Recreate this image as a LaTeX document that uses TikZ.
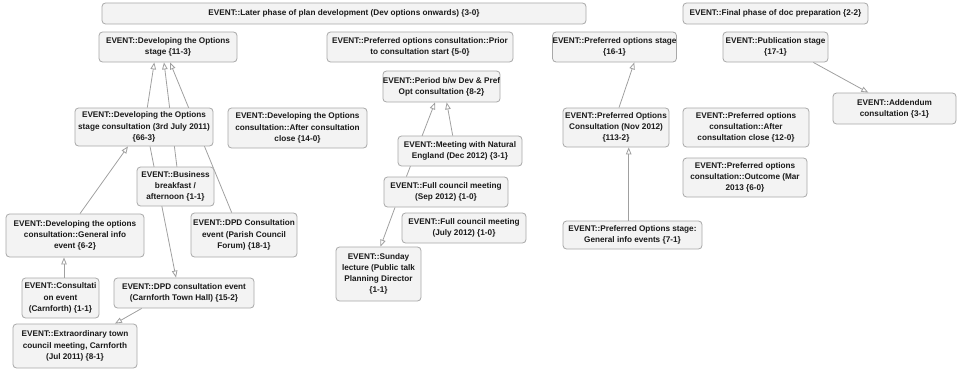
\documentclass[tikz,border=0pt]{standalone}
\usepackage{fontspec}
\setmainfont{Liberation Sans}
\usetikzlibrary{arrows.meta,backgrounds}
\definecolor{boxfill}{HTML}{F3F3F3}
\definecolor{boxline}{HTML}{A8A8A8}
\definecolor{edgecol}{HTML}{A0A0A0}
\definecolor{txt}{HTML}{1A1A1A}
\tikzset{
  ev/.style={draw=boxline, fill=boxfill, line width=0.8pt, rounded corners=3.5pt,
    inner sep=0pt, align=center, text=txt,
    font=\fontsize{8.2}{11.2}\selectfont\bfseries},
  conn/.style={draw=edgecol, line width=0.8pt,
    -{Triangle[open, length=7pt, width=5.5pt]}}
}
\begin{document}
\begin{tikzpicture}[x=1pt,y=-1pt]
\path[use as bounding box] (0,0) rectangle (957,369);
% nodes
\node[ev, minimum width=484, minimum height=21] (n1) at (344,13.5) {EVENT::Later phase of plan development (Dev options onwards) \{3-0\}};
\node[ev, minimum width=138, minimum height=30] (n2) at (168,47) {EVENT::Developing the Options\\stage \{11-3\}};
\node[ev, minimum width=138, minimum height=38] (n3) at (144,127) {EVENT::Developing the Options\\stage consultation (3rd July 2011)\\\{66-3\}};
\node[ev, minimum width=139, minimum height=40] (n4) at (297.5,128) {EVENT::Developing the Options\\consultation::After consultation\\close \{14-0\}};
\node[ev, minimum width=77, minimum height=39] (n5) at (175.5,186.5) {EVENT::Business\\breakfast /\\afternoon \{1-1\}};
\node[ev, minimum width=138, minimum height=43] (n6) at (75,235.5) {EVENT::Developing the options\\consultation::General info\\event \{6-2\}};
\node[ev, minimum width=106, minimum height=44] (n7) at (244,235) {EVENT::DPD Consultation\\event (Parish Council\\Forum) \{18-1\}};
\node[ev, minimum width=77, minimum height=40] (n8) at (60.5,298) {EVENT::Consultati\\on event\\(Carnforth) \{1-1\}};
\node[ev, minimum width=140, minimum height=30] (n9) at (184,293) {EVENT::DPD consultation event\\(Carnforth Town Hall) \{15-2\}};
\node[ev, minimum width=124, minimum height=44] (n10) at (75,346) {EVENT::Extraordinary town\\council meeting, Carnforth\\(Jul 2011) \{8-1\}};
\node[ev, minimum width=186, minimum height=30] (n11) at (420,47) {EVENT::Preferred options consultation::Prior\\to consultation start \{5-0\}};
\node[ev, minimum width=115, minimum height=31] (n12) at (441.5,86.5) {EVENT::Period b/w Dev \& Pref\\Opt consultation \{8-2\}};
\node[ev, minimum width=124, minimum height=30] (n13) at (460,151) {EVENT::Meeting with Natural\\England (Dec 2012) \{3-1\}};
\node[ev, minimum width=124, minimum height=30] (n14) at (446,192) {EVENT::Full council meeting\\(Sep 2012) \{1-0\}};
\node[ev, minimum width=124, minimum height=30] (n15) at (464,228) {EVENT::Full council meeting\\(July 2012) \{1-0\}};
\node[ev, minimum width=85, minimum height=54] (n16) at (378.5,274) {EVENT::Sunday\\lecture (Public talk\\Planning Director\\\{1-1\}};
\node[ev, minimum width=103, minimum height=30] (n17) at (614.5,47) {EVENT::Preferred options stage\\\{16-1\}};
\node[ev, minimum width=185, minimum height=21] (n18) at (775.5,13.5) {EVENT::Final phase of doc preparation \{2-2\}};
\node[ev, minimum width=105, minimum height=30] (n19) at (775.5,47) {EVENT::Publication stage\\\{17-1\}};
\node[ev, minimum width=123, minimum height=31] (n20) at (894.5,108.5) {EVENT::Addendum\\consultation \{3-1\}};
\node[ev, minimum width=106, minimum height=39] (n21) at (616,127.5) {EVENT::Preferred Options\\Consultation (Nov 2012)\\\{113-2\}};
\node[ev, minimum width=126, minimum height=39] (n22) at (746,127.5) {EVENT::Preferred options\\consultation::After\\consultation close \{12-0\}};
\node[ev, minimum width=124, minimum height=39] (n23) at (745,177.5) {EVENT::Preferred options\\consultation::Outcome (Mar\\2013 \{6-0\}};
\node[ev, minimum width=139, minimum height=28] (n24) at (632.5,235) {EVENT::Preferred Options stage:\\General info events \{7-1\}};
% connectors
\begin{pgfonlayer}{background}
\draw[conn] ([xshift=3.3pt]n3.north) -- ([xshift=-13.7pt]n2.south);
\draw[conn] ([xshift=1.4pt]n5.north) -- ([xshift=-4pt]n2.south);
\draw[conn] ([xshift=-12.3pt]n7.north) -- ([xshift=2pt]n2.south);
\draw[conn] ([xshift=6pt]n3.south) -- ([xshift=-8pt]n9.north);
\draw[conn] ([xshift=5pt]n6.north) -- ([xshift=-16pt]n3.south);
\draw[conn] ([xshift=3.5pt]n8.north) -- ([xshift=-11pt]n6.south);
\draw[conn] ([xshift=-42.3pt]n9.south) -- ([xshift=40pt]n10.north);
\draw[conn] ([xshift=-39.6pt]n14.north) -- ([xshift=-6.5pt]n12.south);
\draw[conn] ([xshift=-7.3pt]n13.north) -- ([xshift=5.2pt]n12.south);
\draw[conn] ([xshift=-51pt]n14.south) -- ([xshift=2pt]n16.north);
\draw[conn] ([xshift=3pt]n21.north) -- ([xshift=19.8pt]n17.south);
\draw[conn] ([xshift=-3.8pt]n24.north) -- ([xshift=12.7pt]n21.south);
\draw[conn] ([xshift=37.8pt]n19.south) -- ([xshift=-26.2pt]n20.north);
\end{pgfonlayer}
\end{tikzpicture}
\end{document}
